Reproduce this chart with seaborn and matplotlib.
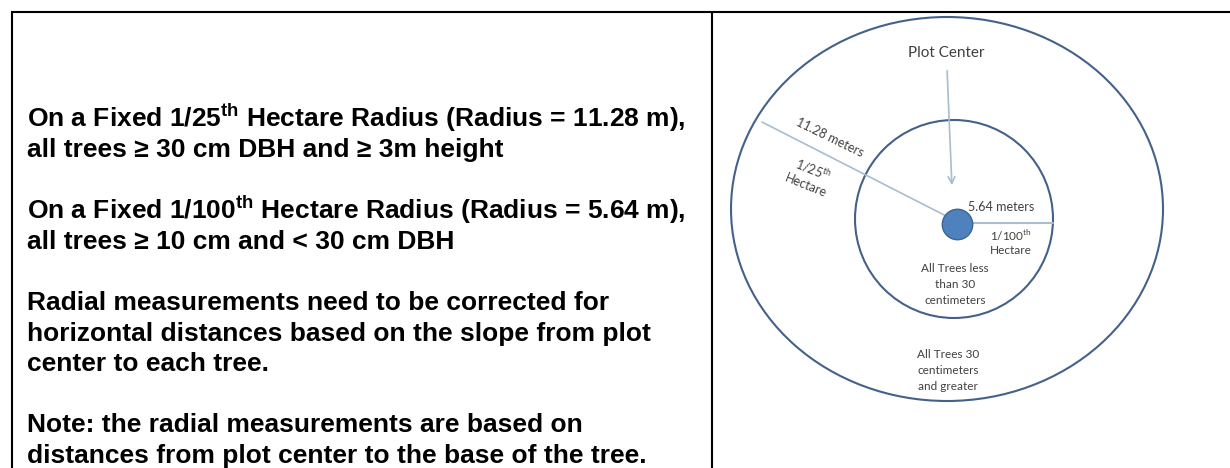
import matplotlib
matplotlib.use("Agg")
import matplotlib.pyplot as plt
import seaborn as sns
import pandas as pd
from matplotlib.patches import Ellipse

# left column text (blank entries are empty lines)
lineas = [
    r"On a Fixed 1/25$^{\mathbf{th}}$ Hectare Radius (Radius = 11.28 m),",
    "all trees \u2265 30 cm DBH and \u2265 3m height",
    "",
    r"On a Fixed 1/100$^{\mathbf{th}}$ Hectare Radius (Radius = 5.64 m),",
    "all trees \u2265 10 cm and < 30 cm DBH",
    "",
    "Radial measurements need to be corrected for",
    "horizontal distances based on the slope from plot",
    "center to each tree.",
    "",
    "Note: the radial measurements are based on",
    "distances from plot center to the base of the tree.",
]

# diagram labels
etiqueta_centro = "Plot Center"
etiqueta_radio_grande = "11.28 meters"
etiqueta_area_grande = [r"1/25$^{\mathsf{th}}$", "Hectare"]
etiqueta_radio_chico = "5.64 meters"
etiqueta_area_chica = [r"1/100$^{\mathsf{th}}$", "Hectare"]
texto_chico = ["All Trees less", "than 30", "centimeters"]
texto_grande = ["All Trees 30", "centimeters", "and greater"]

sns.set_theme(style="white")
plt.rcParams["font.family"] = ["Liberation Sans", "DejaVu Sans"]
plt.rcParams["mathtext.fontset"] = "custom"
plt.rcParams["mathtext.bf"] = "Liberation Sans:bold"
plt.rcParams["mathtext.rm"] = "Liberation Sans"
plt.rcParams["mathtext.sf"] = "Lato"

fig = plt.figure(figsize=(12.3, 4.68), dpi=100)
ax = fig.add_axes([0, 0, 1, 1])
ax.set_xlim(0, 1230)
ax.set_ylim(468, 0)
ax.axis("off")

# table borders
borde = dict(color="black", lw=1.5, solid_capstyle="butt")
ax.plot([11, 1230], [12, 12], **borde)
ax.plot([11.5, 11.5], [12, 468], **borde)
ax.plot([712, 712], [12, 468], **borde)

# left text
y0, paso = 127, 30.5
for i, t in enumerate(lineas):
    if t:
        ax.text(27, y0 + i * paso, t, fontsize=19, fontweight="bold",
                color="black", va="baseline", ha="left")

# diagram
azul = "#44618a"
gris = "#a9bdd0"
txt = "#404040"
ax.add_patch(Ellipse((947, 209), 432, 384, fill=False, ec=azul, lw=1.5))
ax.add_patch(Ellipse((954, 219), 198, 198, fill=False, ec=azul, lw=1.5))

ax.plot([762, 950], [122, 218], color=gris, lw=1.2)
ax.plot([957, 1053], [223, 223], color=gris, lw=1.5)
ax.annotate("", xy=(952, 188), xytext=(947, 68),
            arrowprops=dict(arrowstyle="->", color=gris, lw=1.2,
                            mutation_scale=12))

centro = pd.DataFrame({"x": [957], "y": [224]})
sns.scatterplot(data=centro, x="x", y="y", s=480, color="#4f81bd",
                edgecolor="#3b6597", linewidth=1, ax=ax, zorder=5)

fuente = dict(family=["Lato", "DejaVu Sans"], color=txt)
ax.text(946, 53, etiqueta_centro, fontsize=11, ha="center", va="center", **fuente)
ax.text(830, 137, etiqueta_radio_grande, fontsize=9, ha="center", va="center",
        rotation=-26, rotation_mode="anchor", **fuente)
ax.text(813, 170, etiqueta_area_grande[0], fontsize=9, ha="center", va="center",
        rotation=-22, rotation_mode="anchor", **fuente)
ax.text(806, 186, etiqueta_area_grande[1], fontsize=9, ha="center", va="center",
        rotation=-22, rotation_mode="anchor", **fuente)
ax.text(1001, 207, etiqueta_radio_chico, fontsize=9, ha="center", va="center", **fuente)
ax.text(1011, 235, etiqueta_area_chica[0], fontsize=8.5, ha="center", va="center", **fuente)
ax.text(1011, 250, etiqueta_area_chica[1], fontsize=8.5, ha="center", va="center", **fuente)
for i, t in enumerate(texto_chico):
    ax.text(955, 269 + i * 16, t, fontsize=8.5, ha="center", va="center", **fuente)
for i, t in enumerate(texto_grande):
    ax.text(948, 355 + i * 16, t, fontsize=8.5, ha="center", va="center", **fuente)

fig.savefig("out.png", dpi=100)
